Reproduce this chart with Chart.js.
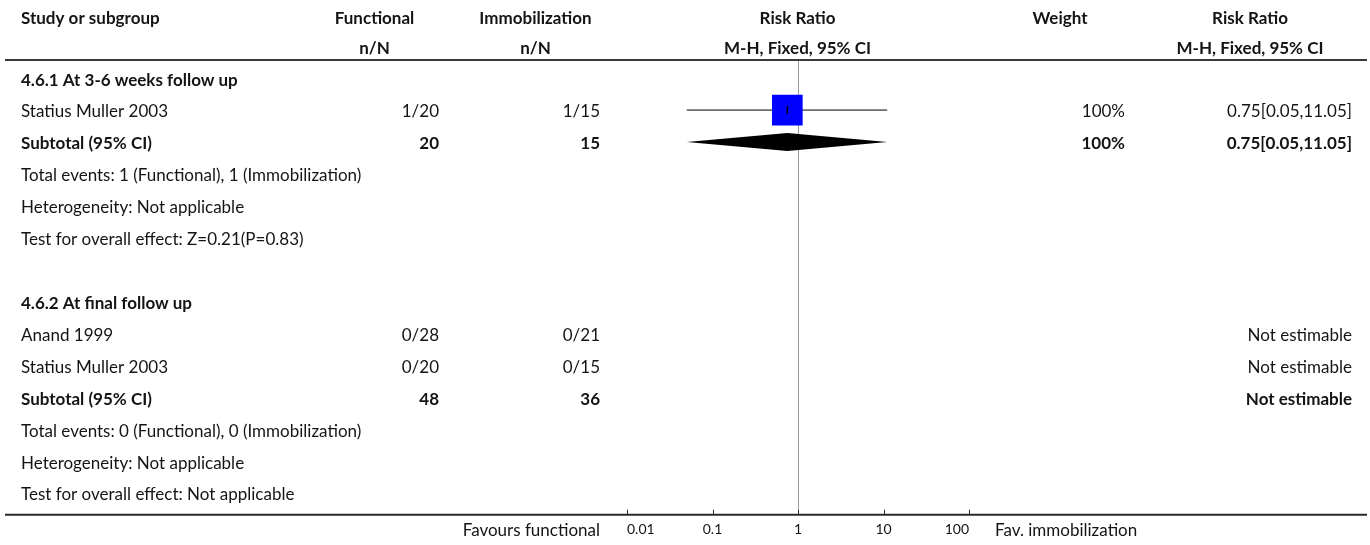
<!DOCTYPE html>
<html>
<head>
<meta charset="utf-8">
<title>Functional vs immobilization - Risk Ratio</title>
<script src="https://cdn.jsdelivr.net/npm/chart.js@4/dist/chart.umd.min.js"></script>
<style>
  html, body { margin: 0; padding: 0; background: #fff; }
  #wrap { width: 1370px; height: 545px; position: relative; }
</style>
</head>
<body>
<div id="wrap"><canvas id="forest"></canvas></div>
<script>
// ---- Table content, one entry per row (top to bottom, "" = blank) ----
const rowLabels = [
  "4.6.1 At 3-6 weeks follow up",
  "Statius Muller 2003",
  "Subtotal (95% CI)",
  "Total events: 1 (Functional), 1 (Immobilization)",
  "Heterogeneity: Not applicable",
  "Test for overall effect: Z=0.21(P=0.83)",
  "",
  "4.6.2 At final follow up",
  "Anand 1999",
  "Statius Muller 2003",
  "Subtotal (95% CI)",
  "Total events: 0 (Functional), 0 (Immobilization)",
  "Heterogeneity: Not applicable",
  "Test for overall effect: Not applicable",
];
const rowIsBold = [true, false, true, false, false, false, false, true, false, false, true, false, false, false];
const functionalCells = ["", "1/20", "20", "", "", "", "", "", "0/28", "0/20", "48", "", "", ""];
const immobilizationCells = ["", "1/15", "15", "", "", "", "", "", "0/21", "0/15", "36", "", "", ""];
const weightCells = ["", "100%", "100%", "", "", "", "", "", "", "", "", "", "", ""];
const riskRatioCells = ["", "0.75[0.05,11.05]", "0.75[0.05,11.05]", "", "", "", "", "",
  "Not estimable", "Not estimable", "Not estimable", "", "", ""];

const headerTop = ["Study or subgroup", "Functional", "Immobilization", "Risk Ratio", "Weight", "Risk Ratio"];
const headerBottom = ["", "n/N", "n/N", "M-H, Fixed, 95% CI", "", "M-H, Fixed, 95% CI"];

// ---- Individual studies (row = index into the table) ----
const studyRows = [1];
const studyRR = [0.75];
const studyLower = [0.05];
const studyUpper = [11.05];
const studyWeight = [100];

// ---- Pooled subtotals, drawn as diamonds ----
const subtotalRows = [2];
const subtotalRR = [0.75];
const subtotalLower = [0.05];
const subtotalUpper = [11.05];

// ---- Axis ----
const axisTicks = [0.01, 0.1, 1, 10, 100];
const axisTickLabels = ["0.01", "0.1", "1", "10", "100"];
const favoursLeft = "Favours functional";
const favoursRight = "Fav. immobilization";

// ---- Layout (pixels) ----
const FONT = "Lato, 'Noto Sans', sans-serif";
const BODY_SIZE = 17;
const ROW_FIRST = 78.2;   // centre of row 0
const ROW_STEP = 32;      // row height
const PLOT_TOP = 61;
const PLOT_BOTTOM = 516;
const colStudyX = 21;
const colCenters = [null, 374.5, 535.5, 797.5, 1060, 1250];   // header centres
const colRights = [null, 439, 600, null, 1125, 1352];         // right edge of cells

// Build datasets: CI whiskers, weighted boxes, estimate ticks and diamonds
const datasets = [];
studyRows.forEach((r, i) => {
  datasets.push({
    data: [{ x: studyLower[i], y: r }, { x: studyUpper[i], y: r }],
    borderColor: "#000", borderWidth: 1, pointRadius: 0, order: 3,
  });
  datasets.push({
    data: [{ x: studyRR[i], y: r }],
    showLine: false, pointStyle: "rect",
    pointRadius: 21.7 * Math.sqrt(studyWeight[i] / 100),
    pointBackgroundColor: "#0000ff", pointBorderColor: "#0000ff", pointBorderWidth: 0, order: 2,
  });
  datasets.push({
    data: [{ x: studyRR[i], y: r }],
    showLine: false, pointStyle: "line", pointRotation: 90, pointRadius: 4,
    pointBorderColor: "#000", pointBorderWidth: 1.5, order: 1,
  });
});
subtotalRows.forEach((r, i) => {
  const half = 9 / ROW_STEP; // diamond half-height in row units
  const topIndex = datasets.length;
  datasets.push({
    data: [{ x: subtotalLower[i], y: r }, { x: subtotalRR[i], y: r - half }, { x: subtotalUpper[i], y: r }],
    borderColor: "rgba(0,0,0,0)", borderWidth: 1, pointRadius: 0, fill: false, order: 4,
  });
  datasets.push({
    data: [{ x: subtotalLower[i], y: r }, { x: subtotalRR[i], y: r + half }, { x: subtotalUpper[i], y: r }],
    borderColor: "rgba(0,0,0,0)", borderWidth: 1, pointRadius: 0,
    fill: topIndex, backgroundColor: "#000", order: 4,
  });
});

function drawText(ctx, str, x, capCenter, align, bold, size) {
  ctx.font = (bold ? "bold " : "") + size + "px " + FONT;
  ctx.textAlign = align;
  ctx.textBaseline = "alphabetic";
  ctx.fillText(str, x, capCenter + size * 0.358);
}

// Plugin: null line, table text, rules and the axis line
const forestTable = {
  id: "forestTable",
  beforeDatasetsDraw(chart) {
    const { ctx, chartArea, scales: { x } } = chart;
    const px = Math.round(x.getPixelForValue(1)) + 0.5;
    ctx.save();
    ctx.strokeStyle = "#9a9a9a";
    ctx.lineWidth = 1;
    ctx.beginPath();
    ctx.moveTo(px, chartArea.top);
    ctx.lineTo(px, chartArea.bottom);
    ctx.stroke();
    ctx.restore();
  },
  afterDraw(chart) {
    const { ctx, chartArea, scales: { x, y } } = chart;
    ctx.save();
    ctx.fillStyle = "#141414";

    // header
    drawText(ctx, headerTop[0], colStudyX, 17.5, "left", true, BODY_SIZE);
    for (let c = 1; c < headerTop.length; c++) {
      drawText(ctx, headerTop[c], colCenters[c], 17.5, "center", true, BODY_SIZE);
      if (headerBottom[c]) drawText(ctx, headerBottom[c], colCenters[c], 47.8, "center", true, BODY_SIZE);
    }

    // header rule
    ctx.strokeStyle = "#3a3a3a";
    ctx.lineWidth = 2;
    ctx.beginPath();
    ctx.moveTo(5, 60);
    ctx.lineTo(1367, 60);
    ctx.stroke();

    // rows
    rowLabels.forEach((label, r) => {
      const cy = y.getPixelForValue(r) + 1.3;
      const b = rowIsBold[r];
      if (label) drawText(ctx, label, colStudyX, cy, "left", b, BODY_SIZE);
      if (functionalCells[r]) drawText(ctx, functionalCells[r], colRights[1], cy, "right", b, BODY_SIZE);
      if (immobilizationCells[r]) drawText(ctx, immobilizationCells[r], colRights[2], cy, "right", b, BODY_SIZE);
      if (weightCells[r]) drawText(ctx, weightCells[r], colRights[4], cy, "right", b, BODY_SIZE);
      if (riskRatioCells[r]) drawText(ctx, riskRatioCells[r], colRights[5], cy, "right", b, BODY_SIZE);
    });

    // bottom rule / axis line
    const by = chartArea.bottom;
    ctx.strokeStyle = "#2a2a2a";
    ctx.lineWidth = 2;
    ctx.beginPath();
    ctx.moveTo(5, by);
    ctx.lineTo(1367, by);
    ctx.stroke();

    // tick marks pointing up into the plot
    ctx.lineWidth = 1;
    axisTicks.forEach(v => {
      const tx = Math.round(x.getPixelForValue(v)) + 0.5;
      ctx.beginPath();
      ctx.moveTo(tx, by);
      ctx.lineTo(tx, by - 5);
      ctx.stroke();
    });

    // favours labels
    drawText(ctx, favoursLeft, colRights[2], 530, "right", false, BODY_SIZE);
    drawText(ctx, favoursRight, 995, 530, "left", false, BODY_SIZE);
    ctx.restore();
  },
};

new Chart(document.getElementById("forest"), {
  type: "line",
  data: { datasets },
  options: {
    responsive: true,
    maintainAspectRatio: false,
    animation: false,
    events: [],
    layout: { padding: { left: 627, right: 401, top: PLOT_TOP, bottom: 0 } },
    plugins: { legend: { display: false }, tooltip: { enabled: false } },
    scales: {
      x: {
        type: "logarithmic",
        min: axisTicks[0],
        max: axisTicks[axisTicks.length - 1],
        afterBuildTicks: scale => { scale.ticks = axisTicks.map(v => ({ value: v })); },
        ticks: {
          callback: (v, i) => axisTickLabels[i],
          align: "inner",
          maxRotation: 0,
          autoSkip: false,
          padding: 6.7,
          color: "#141414",
          font: { family: FONT, size: 14 },
        },
        grid: { display: false, drawTicks: false },
        border: { display: false },
      },
      y: {
        type: "linear",
        display: false,
        reverse: true,
        min: (PLOT_TOP - ROW_FIRST) / ROW_STEP,
        max: (PLOT_BOTTOM - ROW_FIRST) / ROW_STEP,
      },
    },
  },
  plugins: [forestTable],
});
</script>
</body>
</html>
